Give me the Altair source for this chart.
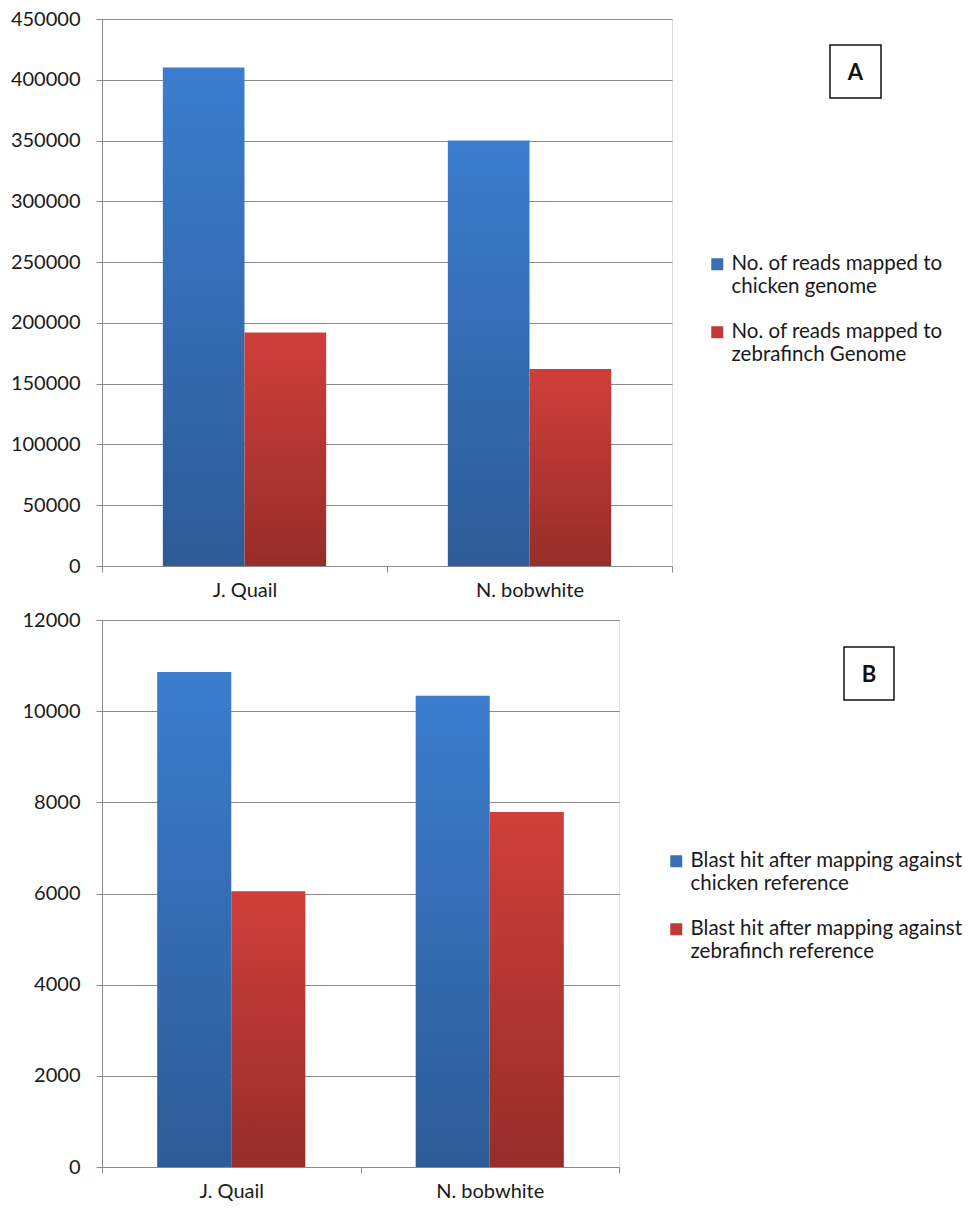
import altair as alt
import pandas as pd

# ---------------- data ----------------
categories = ["J. Quail", "N. bobwhite"]

series_a = ["No. of reads mapped to chicken genome",
            "No. of reads mapped to zebrafinch Genome"]
chicken_reads = [410000, 350000]
zebrafinch_reads = [192000, 162000]
ticks_a = [0, 50000, 100000, 150000, 200000, 250000, 300000, 350000, 400000, 450000]
legend_lines_a = [["No. of reads mapped to", "chicken genome"],
                  ["No. of reads mapped to", "zebrafinch Genome"]]

series_b = ["Blast hit after mapping against chicken reference",
            "Blast hit after mapping against zebrafinch reference"]
chicken_blast = [10860, 10340]
zebrafinch_blast = [6050, 7790]
ticks_b = [0, 2000, 4000, 6000, 8000, 10000, 12000]
legend_lines_b = [["Blast hit after mapping against", "chicken reference"],
                  ["Blast hit after mapping against", "zebrafinch reference"]]

# ---------------- style ----------------
FONT = "Lato"
GRID = "#8a8a8a"
TEXT = "#1a1a1a"
BLUE = "#3a6fb5"
RED = "#c23a37"


def grad(top, bottom):
    return alt.Gradient(
        gradient="linear",
        stops=[alt.GradientStop(color=top, offset=0),
               alt.GradientStop(color=bottom, offset=1)],
        x1=0, x2=0, y1=0, y2=1,
    )


BLUE_GRAD = grad("#3b7dce", "#2d5b96")
RED_GRAD = grad("#d03f3a", "#962d2a")


def panel(series, v1, v2, ticks, width, letter, lines, box, legend_xy):
    n = len(categories)
    df = pd.DataFrame({
        "category": categories * 2,
        "series": [series[0]] * n + [series[1]] * n,
        "value": list(v1) + list(v2),
    })
    x = alt.X("category:N", sort=categories,
              scale=alt.Scale(paddingInner=0, paddingOuter=0),
              axis=alt.Axis(title=None, labelAngle=0, tickBand="extent",
                            tickSize=6, labelPadding=8, grid=False,
                            domainColor=GRID, tickColor=GRID,
                            labelFontSize=20, labelColor=TEXT, labelFont=FONT))
    xo = alt.XOffset("series:N", sort=series,
                     scale=alt.Scale(domain=series, paddingOuter=0.745, paddingInner=0))
    y = alt.Y("value:Q", scale=alt.Scale(domain=[0, ticks[-1]], nice=False),
              axis=alt.Axis(title=None, values=ticks, format="d", tickSize=6,
                            labelPadding=16, gridColor=GRID, domainColor=GRID,
                            tickColor=GRID, labelFontSize=20, labelColor=TEXT,
                            labelFont=FONT))
    base = alt.Chart(df).encode(x=x, xOffset=xo, y=y)
    blue = base.transform_filter(alt.datum.series == series[0]).mark_bar(fill=BLUE_GRAD)
    red = base.transform_filter(alt.datum.series == series[1]).mark_bar(fill=RED_GRAD)

    expr = "datum.label == '%s' ? ['%s', '%s'] : ['%s', '%s']" % (
        series[0], lines[0][0], lines[0][1], lines[1][0], lines[1][1])
    legend_layer = base.mark_square(opacity=0).encode(
        color=alt.Color("series:N", sort=series,
                        scale=alt.Scale(domain=series, range=[BLUE, RED]),
                        legend=alt.Legend(title=None, orient="none",
                                          legendX=legend_xy[0], legendY=legend_xy[1],
                                          labelExpr=expr, symbolType="square",
                                          symbolSize=144, symbolOpacity=1,
                                          symbolStrokeWidth=0, padding=0,
                                          labelFontSize=20.5, labelFont=FONT,
                                          labelColor=TEXT, rowPadding=24,
                                          labelLimit=400, labelOffset=4)))

    lab = alt.Chart(pd.DataFrame({"letter": [letter]}))
    rect = lab.mark_rect(fill="white", stroke="#111111", strokeWidth=1.5).encode(
        x=alt.value(box[0]), x2=alt.value(box[1]), y=alt.value(box[2]), y2=alt.value(box[3]))
    txt = lab.mark_text(font=FONT, fontSize=22, fontWeight="bold", color="#111111",
                        baseline="middle", align="center").encode(
        x=alt.value((box[0] + box[1]) / 2), y=alt.value((box[2] + box[3]) / 2 + 1),
        text="letter:N")
    return alt.layer(blue, red, legend_layer, rect, txt).properties(width=width, height=547)


top = panel(series_a, chicken_reads, zebrafinch_reads, ticks_a, 570, "A",
            legend_lines_a, (728, 779, 26, 79), (605, 235))
bottom = panel(series_b, chicken_blast, zebrafinch_blast, ticks_b, 517, "B",
               legend_lines_b, (742, 792, 27, 80), (564, 231))

chart = (
    alt.vconcat(top, bottom, spacing=54, bounds="flush")
    .resolve_scale(x="independent", y="independent", xOffset="independent",
                   color="independent")
    .resolve_legend(color="independent")
    .properties(padding={"left": 9, "top": 8, "right": 0, "bottom": 0})
    .configure_view(stroke=None)
    .configure(font=FONT)
)

chart.save("out.html", embed_options={"renderer": "svg", "actions": False})
